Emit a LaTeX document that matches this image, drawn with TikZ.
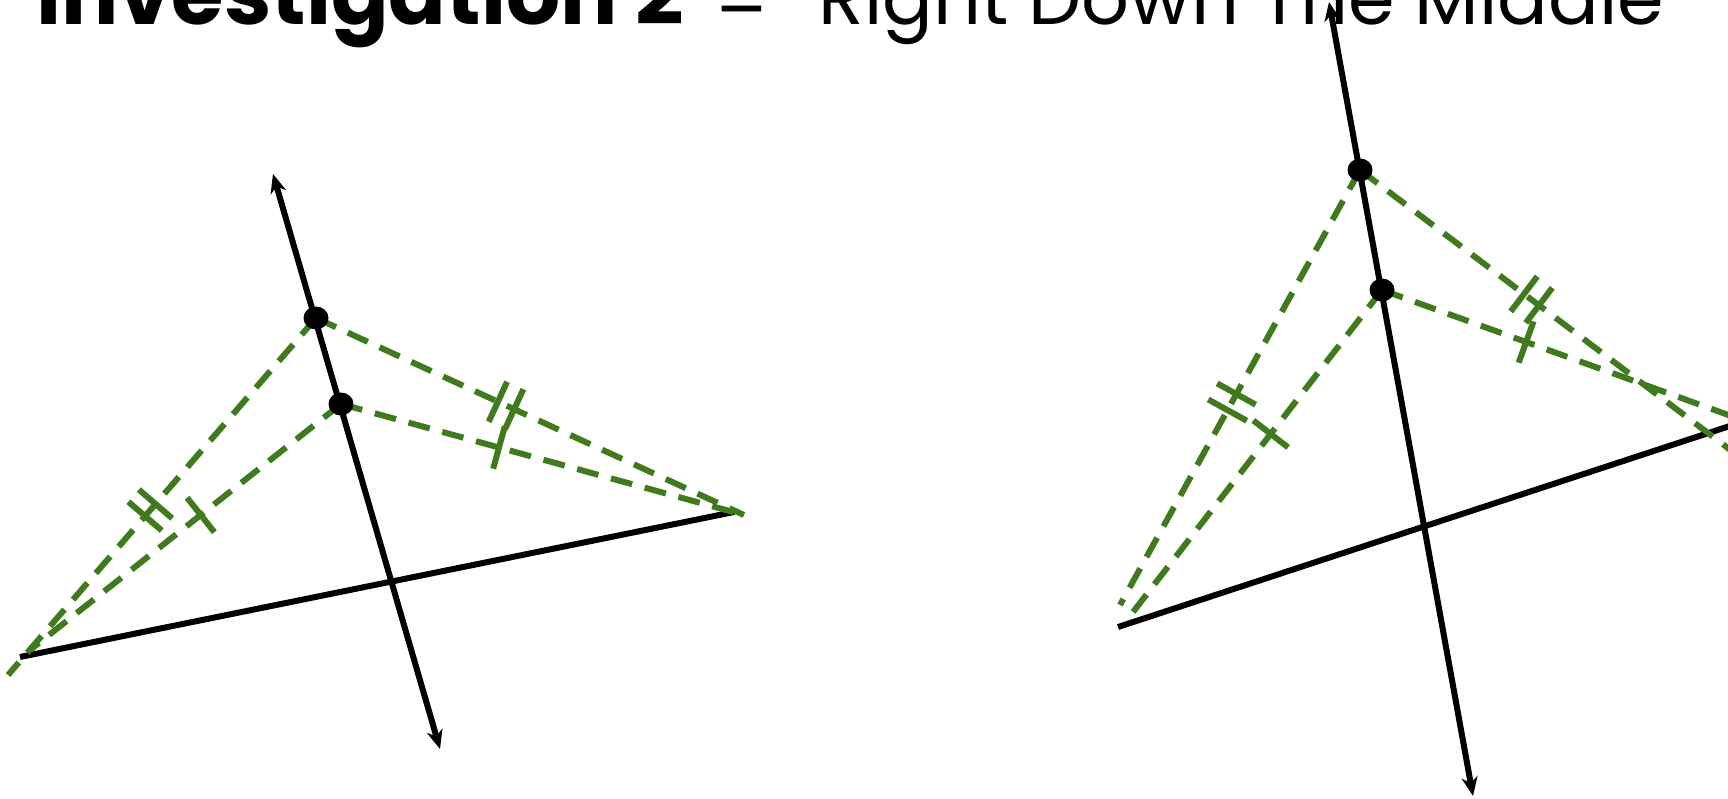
\documentclass[tikz,border=0pt]{standalone}
\usepackage{fontspec}
\setmainfont{Poppins}
\usepackage{tikz}
\usetikzlibrary{arrows.meta, calc}
\definecolor{BisectGreen}{HTML}{3F7A1C}

\tikzset{
  perpline/.style={line width=6pt, {Stealth[length=19pt, width=16pt, inset=6pt]}-{Stealth[length=19pt, width=16pt, inset=6pt]}},
  segline/.style={line width=6pt},
  guideline/.style={line width=6pt, BisectGreen, dash pattern=on 22pt off 13pt},
  tickmark/.style={line width=6pt, BisectGreen},
}

\begin{document}
\begin{tikzpicture}[x=1pt, y=-1pt]
  \useasboundingbox (0,0) rectangle (1728,799);
  \clip (0,0) rectangle (1728,799);
  % Left figure
  \coordinate (U1) at (316,318);
  \coordinate (L1) at (341,404);
  \coordinate (OL1) at (8,675);
  \coordinate (IL1) at (30,650);
  \coordinate (R1) at (744,515);
  \coordinate (BL1) at (20,657);
  \coordinate (BR1) at (734,512);
  \coordinate (A1t) at (273,174);
  \coordinate (A1b) at (440,749);
  \draw[segline] (BL1) -- (BR1);
  \draw[perpline] (A1t) -- (A1b);
  \draw[guideline] (U1) -- (OL1);
  \draw[guideline] (L1) -- (IL1);
  \draw[guideline] (U1) -- (R1);
  \draw[guideline] (L1) -- (R1);
  % Right figure
  \coordinate (U2) at (1360,170);
  \coordinate (L2) at (1382,290);
  \coordinate (OL2) at (1120,605);
  \coordinate (IL2) at (1133,612);
  \coordinate (OR2) at (1745,461);
  \coordinate (IR2) at (1745,421);
  \coordinate (BL2) at (1118,627);
  \coordinate (BR2) at (1745,421);
  \coordinate (A2t) at (1329,2);
  \coordinate (A2b) at (1473,796);
  \draw[segline] (BL2) -- (BR2);
  \draw[perpline] (A2t) -- (A2b);
  \draw[guideline] (U2) -- (OL2);
  \draw[guideline] (L2) -- (IL2);
  \draw[guideline] (U2) -- (OR2);
  \draw[guideline] (L2) -- (IR2);
  % Equal length marks
  \foreach \a/\b/\t in {U1/OL1/0.521, U1/OL1/0.555, L1/IL1/0.451, U1/R1/0.425, U1/R1/0.463, L1/R1/0.392,
                        U2/OL2/0.515, U2/OL2/0.552, L2/IL2/0.447, U2/OR2/0.426, U2/OR2/0.465, L2/IR2/0.397} {
    \coordinate (m) at ($(\a)!\t!(\b)$);
    \draw[tickmark] ($(m)!22pt!90:(\b)$) -- ($(m)!22pt!-90:(\b)$);
  }
  % Points on the bisector
  \foreach \p in {U1, L1, U2, L2}
    \fill (\p) ellipse (12.5 and 11.5);
  % Title
  \node[anchor=base west, inner sep=0pt] (title) at (36,25)
    {\fontsize{85}{90}\selectfont\textbf{Investigation 2}\hspace{32pt}%
     \fontsize{75}{90}\selectfont\raisebox{-12pt}{--}\hspace{52pt}Right Down The Middle};
\end{tikzpicture}
\end{document}
